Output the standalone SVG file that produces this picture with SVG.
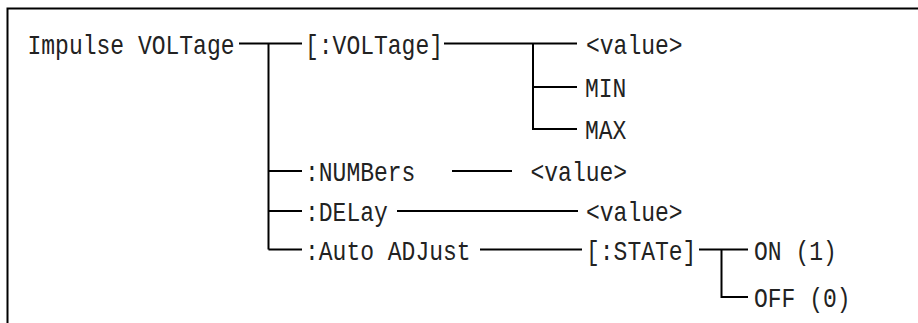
<svg xmlns="http://www.w3.org/2000/svg" width="918" height="323" viewBox="0 0 918 323">
<style>
text{font-family:"Liberation Mono","DejaVu Sans Mono",monospace;font-size:28px;fill:#222}
.ln{stroke:#000;stroke-width:2;fill:none}
</style>
<rect width="918" height="323" fill="#fff"/>
<path class="ln" d="M7.5,330 V8.5 H930"/>
<g id="connectors">
<path class="ln" d="M239,43.5 H302"/>
<path class="ln" d="M268.5,43.5 V249.5"/>
<path class="ln" d="M268.5,171 H302 M268.5,211 H302 M268.5,249.5 H302"/>
<path class="ln" d="M444,43.5 H577"/>
<path class="ln" d="M533,43.5 V129 H577 M533,87 H577"/>
<path class="ln" d="M452,171 H512"/>
<path class="ln" d="M397,211 H578"/>
<path class="ln" d="M480,249.5 H582"/>
<path class="ln" d="M699,249.5 H748"/>
<path class="ln" d="M721.5,249.5 V297 H748"/>
</g>
<g id="n-impulse"><text x="27.5" y="53.5" textLength="207" lengthAdjust="spacingAndGlyphs">Impulse VOLTage</text></g>
<g id="n-voltage"><text x="305" y="53.5" textLength="138" lengthAdjust="spacingAndGlyphs">[:VOLTage]</text></g>
<g id="n-value1"><text x="586" y="53.5" textLength="96.6" lengthAdjust="spacingAndGlyphs">&lt;value&gt;</text></g>
<g id="n-min"><text x="585" y="97" textLength="41.4" lengthAdjust="spacingAndGlyphs">MIN</text></g>
<g id="n-max"><text x="585" y="139" textLength="41.4" lengthAdjust="spacingAndGlyphs">MAX</text></g>
<g id="n-numbers"><text x="305" y="181" textLength="110.4" lengthAdjust="spacingAndGlyphs">:NUMBers</text></g>
<g id="n-value2"><text x="530.5" y="181" textLength="96.6" lengthAdjust="spacingAndGlyphs">&lt;value&gt;</text></g>
<g id="n-delay"><text x="305" y="221" textLength="82.8" lengthAdjust="spacingAndGlyphs">:DELay</text></g>
<g id="n-value3"><text x="586" y="221" textLength="96.6" lengthAdjust="spacingAndGlyphs">&lt;value&gt;</text></g>
<g id="n-auto"><text x="305" y="259.5" textLength="165.6" lengthAdjust="spacingAndGlyphs">:Auto ADJust</text></g>
<g id="n-state"><text x="586" y="259.5" textLength="110.4" lengthAdjust="spacingAndGlyphs">[:STATe]</text></g>
<g id="n-on"><text x="754" y="259.5" textLength="82.8" lengthAdjust="spacingAndGlyphs">ON (1)</text></g>
<g id="n-off"><text x="754" y="307" textLength="96.6" lengthAdjust="spacingAndGlyphs">OFF (0)</text></g>
</svg>
